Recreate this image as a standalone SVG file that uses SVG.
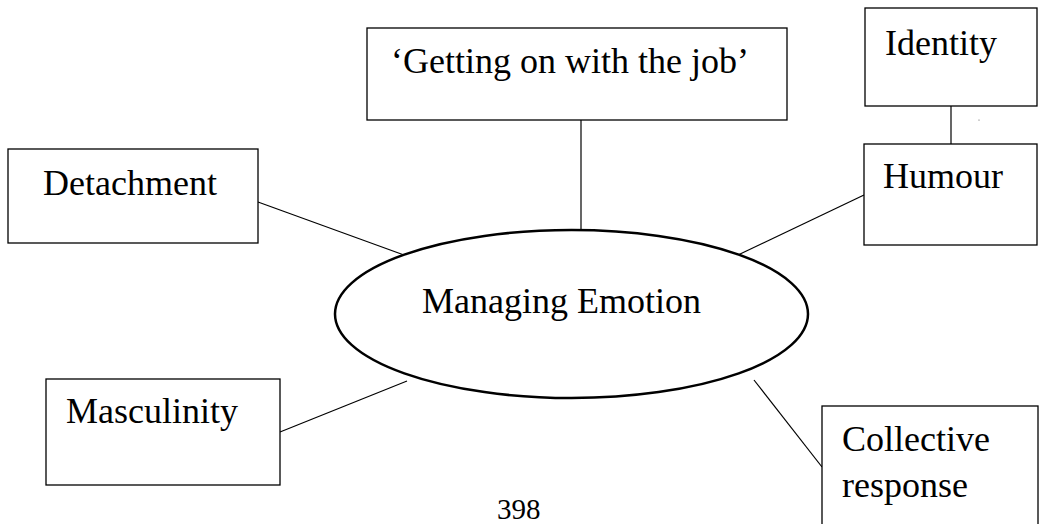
<svg xmlns="http://www.w3.org/2000/svg" width="1041" height="524" viewBox="0 0 1041 524">
  <style>
    .box { fill: #ffffff; stroke: #000000; stroke-width: 1.3; }
    .hub { fill: #ffffff; stroke: #000000; stroke-width: 2.5; }
    .link { stroke: #000000; stroke-width: 1.2; fill: none; }
    text { fill: #000000; }
  </style>
  <rect width="1041" height="524" fill="#ffffff"/>

  <!-- connectors -->
  <g id="connectors">
    <line class="link" x1="581" y1="120" x2="581" y2="230"/>
    <line class="link" x1="951" y1="106" x2="951" y2="144"/>
    <line class="link" x1="258" y1="202" x2="404" y2="255"/>
    <line class="link" x1="864" y1="195" x2="738" y2="255"/>
    <line class="link" x1="280" y1="432" x2="407" y2="381"/>
    <line class="link" x1="754" y1="380" x2="822" y2="467"/>
  </g>

  <g font-family="Liberation Serif, Tinos, Times New Roman, DejaVu Serif, serif" font-size="36">
    <g id="node-getting-on">
      <rect class="box" x="367" y="28" width="420" height="92"/>
      <text x="391" y="73">‘Getting on with the job’</text>
    </g>

    <g id="node-identity">
      <rect class="box" x="865" y="8" width="172" height="98"/>
      <text x="885" y="55">Identity</text>
    </g>

    <g id="node-humour">
      <rect class="box" x="864" y="144" width="173" height="101"/>
      <text x="883" y="188">Humour</text>
    </g>

    <g id="node-detachment">
      <rect class="box" x="8" y="149" width="250" height="94"/>
      <text x="43" y="195">Detachment</text>
    </g>

    <g id="node-managing-emotion">
      <ellipse class="hub" cx="571.5" cy="314" rx="236.5" ry="84"/>
      <text x="422" y="313">Managing Emotion</text>
    </g>

    <g id="node-masculinity">
      <rect class="box" x="46" y="379" width="234" height="106"/>
      <text x="66" y="423">Masculinity</text>
    </g>

    <g id="node-collective-response">
      <rect class="box" x="822" y="406" width="216" height="130"/>
      <text x="842" y="451">Collective</text>
      <text x="842" y="497">response</text>
    </g>

    <text x="497" y="519" font-size="29">398</text>
  </g>

  <!-- stray mark beside the identity link -->
  <circle cx="979" cy="120" r="0.6" fill="#555555"/>
</svg>
